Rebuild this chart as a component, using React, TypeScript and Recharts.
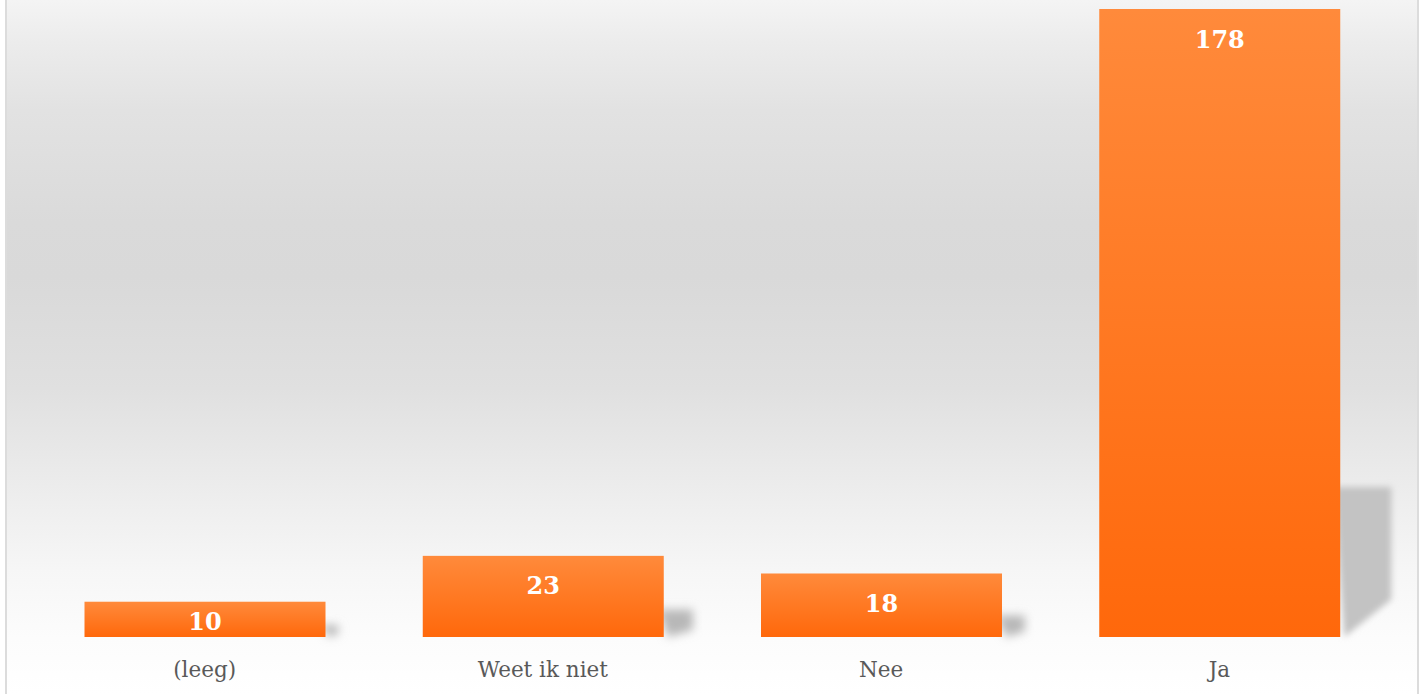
import { Bar, BarChart, LabelList, XAxis, YAxis } from "recharts";

const categories = ["(leeg)", "Weet ik niet", "Nee", "Ja"];
const counts = [10, 23, 18, 178];

const data = categories.map((name, i) => ({ name, count: counts[i] }));

const serif = "'DejaVu Serif', serif";

function ShadowBar(props: any) {
  const { x, y, width, height } = props;
  if (!height) return null;
  const base = y + height;
  const right = x + width;
  const small = height < 100;
  // perspective-style drop shadow to the lower right, like the Excel original
  const sh = Math.min(height * 0.34, 150);
  const sw = Math.min(height * 0.36, 51);
  const pts = [
    `${right - 6},${base - sh}`,
    `${right + sw},${base - sh}`,
    `${right + sw},${base - sh * 0.25}`,
    `${right + 4},${base}`,
  ].join(" ");
  return (
    <g>
      <polygon
        points={pts}
        fill={small ? "#b8b8b8" : "#c3c3c3"}
        filter={small ? "url(#shadowBlurSoft)" : "url(#shadowBlur)"}
      />
      <rect x={x} y={y} width={width} height={height} fill="url(#barFill)" />
    </g>
  );
}

function ValueLabel(props: any) {
  const { x, y, width, height, value } = props;
  const cy = Math.min(y + 30, y + height - 16);
  return (
    <text
      x={x + width / 2}
      y={cy}
      textAnchor="middle"
      dominantBaseline="central"
      fill="#ffffff"
      fontFamily={serif}
      fontWeight="bold"
      fontSize={24}
    >
      {value}
    </text>
  );
}

function CategoryTick(props: any) {
  const { x, y, payload } = props;
  return (
    <text
      x={x}
      y={y + 32}
      textAnchor="middle"
      dominantBaseline="central"
      fill="#595959"
      fontFamily={serif}
      fontSize={21.5}
    >
      {payload.value}
    </text>
  );
}

export default function App() {
  return (
    <div style={{ position: "absolute", left: 0, top: 0, width: 1422, height: 694, background: "#ffffff" }}>
      <div
        style={{
          position: "absolute",
          left: 5,
          top: 0,
          width: 1410,
          height: 694,
          borderLeft: "2px solid #dcdcdc",
          borderRight: "2px solid #dcdcdc",
          background:
            "linear-gradient(to bottom, #f4f4f4 0%, #ececec 6%, #e2e2e2 16%, #dadada 32%, #d9d9d9 40%, #e0e0e0 56%, #ececec 70%, #f6f6f6 82%, #fcfcfc 92%, #ffffff 100%)",
        }}
      />
      <div style={{ position: "absolute", left: 0, top: 0 }}>
        <BarChart
          width={1422}
          height={694}
          data={data}
          margin={{ top: 9, right: 33.5, left: 35.5, bottom: 0 }}
          barSize={241}
        >
          <defs>
            <linearGradient id="barFill" x1="0" y1="0" x2="0" y2="1">
              <stop offset="0%" stopColor="#ff8a3b" />
              <stop offset="100%" stopColor="#ff680b" />
            </linearGradient>
            <filter id="shadowBlur" x="-50%" y="-50%" width="200%" height="200%">
              <feGaussianBlur stdDeviation="3" />
            </filter>
            <filter id="shadowBlurSoft" x="-100%" y="-100%" width="300%" height="300%">
              <feGaussianBlur stdDeviation="5" />
            </filter>
          </defs>
          <XAxis
            dataKey="name"
            axisLine={false}
            tickLine={false}
            tickSize={0}
            tickMargin={0}
            height={57}
            interval={0}
            tick={<CategoryTick />}
          />
          <YAxis hide domain={[0, 178]} />
          <Bar dataKey="count" shape={<ShadowBar />} isAnimationActive={false}>
            <LabelList dataKey="count" content={<ValueLabel />} />
          </Bar>
        </BarChart>
      </div>
    </div>
  );
}
